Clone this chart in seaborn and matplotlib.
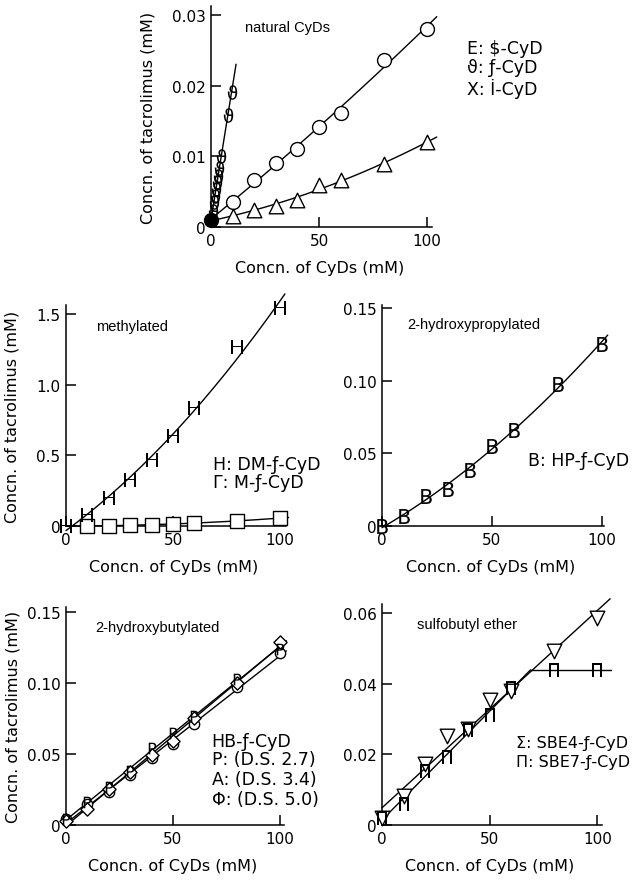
import matplotlib
matplotlib.use("Agg")
import matplotlib.pyplot as plt
import numpy as np
import seaborn as sns

sns.set_style("ticks")
plt.rcParams['font.family'] = ['DejaVu Sans']
plt.rcParams['mathtext.default'] = 'regular'
plt.rcParams['text.color'] = 'black'
plt.rcParams['axes.labelcolor'] = 'black'
plt.rcParams['xtick.color'] = 'black'
plt.rcParams['ytick.color'] = 'black'

conc = [0, 10, 20, 30, 40, 50, 60, 80, 100]

# natural CyDs
s0_natural = 0.001
nat_x = [10, 20, 30, 40, 50, 60, 80, 100]
nat_circle = [0.0036, 0.0066, 0.0091, 0.0111, 0.0142, 0.0162, 0.0236, 0.0281]
nat_triangle = [0.0016, 0.0024, 0.0029, 0.0038, 0.0059, 0.0067, 0.0089, 0.0120]
nat_steep_x = [0.7, 1.3, 1.8, 2.3, 2.8, 3.3, 3.9, 4.8, 7.8, 9.5]
nat_steep = [0.0023, 0.0035, 0.0044, 0.0054, 0.0063, 0.0072, 0.0084, 0.0101, 0.0158, 0.0191]

# methylated
dm_beta = [0.0, 0.075, 0.198, 0.322, 0.468, 0.640, 0.835, 1.264, 1.546]
m_beta_x = [10, 20, 30, 40, 50, 60, 80, 100]
m_beta = [0.0, 0.0, 0.005, 0.010, 0.016, 0.020, 0.035, 0.056]

# 2-hydroxypropylated
hp_beta = [0.0, 0.0067, 0.0206, 0.0257, 0.0388, 0.0550, 0.0658, 0.0975, 0.1255]

# 2-hydroxybutylated
hb_27 = [0.004, 0.016, 0.027, 0.038, 0.054, 0.065, 0.077, 0.103, 0.124]
hb_34 = [0.003, 0.011, 0.025, 0.037, 0.049, 0.059, 0.075, 0.100, 0.129]
hb_50 = [0.004, 0.015, 0.023, 0.035, 0.047, 0.057, 0.071, 0.097, 0.121]
hb_50_err = [0.001, 0.002, 0.002, 0.003, 0.003, 0.003, 0.003, 0.003, 0.003]

# sulfobutyl ether
sbe4 = [0.0020, 0.0083, 0.0173, 0.0253, 0.0272, 0.0354, 0.0380, 0.0493, 0.0585]
sbe7 = [0.0019, 0.0059, 0.0154, 0.0192, 0.0269, 0.0311, 0.0387, 0.0439, 0.0439]

YLABEL = 'Concn. of tacrolimus (mM)'
XLABEL = 'Concn. of CyDs (mM)'


def setup(ax, xmax, ymax, yticks, ylabels, title, tpos, ylab=None):
    ax.set_xlim(0, xmax)
    ax.set_ylim(0, ymax)
    sns.despine(ax=ax)
    for s in ['left', 'bottom']:
        ax.spines[s].set_linewidth(1.1)
        ax.spines[s].set_color('black')
    ax.set_xticks([0, 50, 100])
    ax.set_xticklabels(['0', '50', '100'])
    ax.set_yticks(yticks)
    ax.set_yticklabels(ylabels)
    ax.tick_params(direction='in', length=7, width=1.1, labelsize=11, pad=4,
                   colors='black')
    ax.set_xlabel(XLABEL, fontsize=11.5)
    ax.xaxis.set_label_coords(0.49, -0.15)
    if ylab is not None:
        ax.set_ylabel(YLABEL, fontsize=11.5)
        ax.yaxis.set_label_coords(ylab, 0.5)
    else:
        ax.set_ylabel('')
    ax.text(tpos[0], tpos[1], title, transform=ax.transAxes, fontsize=10.5,
            family='Liberation Sans', va='center', ha='left')


def fitline(ax, x, y, deg, x1, x0=0):
    p = np.polyfit(x, y, deg)
    xf = np.linspace(x0, x1, 150)
    sns.lineplot(x=xf, y=np.polyval(p, xf), ax=ax, color='black', linewidth=1,
                 estimator=None, sort=False, clip_on=False, zorder=2)


def pts(ax, x, y, marker, s, filled=False):
    if marker.startswith('$'):
        sns.scatterplot(x=x, y=y, ax=ax, marker=marker, s=s, color='black',
                        edgecolor='black', linewidth=0, clip_on=False, zorder=4)
    else:
        sns.scatterplot(x=x, y=y, ax=ax, marker=marker, s=s,
                        facecolor='black' if filled else 'white',
                        edgecolor='black', linewidth=1, clip_on=False, zorder=3)


def legend_text(ax, x, ys, lines, size=12.5):
    for yy, t in zip(ys, lines):
        ax.text(x, yy, t, transform=ax.transAxes, fontsize=size, va='center', ha='left')


fig = plt.figure(figsize=(6.39, 8.95), dpi=100)

# --- natural CyDs ---
ax1 = fig.add_axes([0.3302, 0.7453, 0.3459, 0.2469])
setup(ax1, 102.3, 0.0313, [0, 0.01, 0.02, 0.03], ['0', '0.01', '0.02', '0.03'],
      'natural CyDs', (0.154, 0.905), ylab=-0.25)
fitline(ax1, [0] + nat_x, [s0_natural] + nat_circle, 2, 104.5)
fitline(ax1, [0] + nat_x, [s0_natural] + nat_triangle, 2, 104.5)
fitline(ax1, [0] + nat_steep_x, [s0_natural] + nat_steep, 1, 11.6)
pts(ax1, nat_x, nat_circle, 'o', 100)
pts(ax1, nat_x, nat_triangle, '^', 110)
pts(ax1, nat_steep_x, nat_steep, '$ϑ$', 110)
pts(ax1, [0], [s0_natural], 'o', 100, filled=True)
legend_text(ax1, 1.158, [0.81, 0.724, 0.629], ['E: $-CyD', 'ϑ: ƒ-CyD', 'X: İ-CyD'])

# --- methylated ---
ax2 = fig.add_axes([0.1033, 0.4112, 0.3443, 0.2469])
setup(ax2, 102.8, 1.564, [0, 0.5, 1.0, 1.5], ['0', '0.5', '1.0', '1.5'],
      'methylated', (0.136, 0.905), ylab=-0.21)
fitline(ax2, conc, dm_beta, 2, 102.3)
fitline(ax2, [0] + m_beta_x, [0] + m_beta, 2, 104)
pts(ax2, conc, dm_beta, '$H$', 115)
pts(ax2, m_beta_x, m_beta, 's', 110)
legend_text(ax2, 0.668, [0.28, 0.199], ['H: DM-ƒ-CyD', 'Γ: M-ƒ-CyD'])

# --- 2-hydroxypropylated ---
ax3 = fig.add_axes([0.5978, 0.4112, 0.3474, 0.2469])
setup(ax3, 100.9, 0.1521, [0, 0.05, 0.10, 0.15], ['0', '0.05', '0.10', '0.15'],
      '2-hydroxypropylated', (0.113, 0.914))
fitline(ax3, conc, hp_beta, 2, 102.6)
pts(ax3, conc, hp_beta, '$B$', 115)
legend_text(ax3, 0.658, [0.30], ['B: HP-ƒ-CyD'])

# --- 2-hydroxybutylated ---
ax4 = fig.add_axes([0.1033, 0.0771, 0.3412, 0.2436])
setup(ax4, 101.9, 0.1535, [0, 0.05, 0.10, 0.15], ['0', '0.05', '0.10', '0.15'],
      '2-hydroxybutylated', (0.132, 0.908), ylab=-0.21)
fitline(ax4, conc, hb_27, 1, 103)
fitline(ax4, conc, hb_34, 1, 103)
fitline(ax4, conc, hb_50, 1, 103)
ax4.errorbar(conc, hb_50, yerr=hb_50_err, fmt='none', ecolor='black',
             elinewidth=1.5, capsize=0, zorder=3, clip_on=False)
pts(ax4, conc, hb_50, 'o', 55)
pts(ax4, conc, hb_34, 'D', 45)
pts(ax4, conc, hb_27, '$P$', 70)
legend_text(ax4, 0.668, [0.385, 0.303, 0.211, 0.119],
            ['HB-ƒ-CyD', 'P: (D.S. 2.7)', 'A: (D.S. 3.4)', 'Φ: (D.S. 5.0)'])

# --- sulfobutyl ether ---
ax5 = fig.add_axes([0.5978, 0.0771, 0.3443, 0.2469])
setup(ax5, 102.2, 0.0625, [0, 0.02, 0.04, 0.06], ['0', '0.02', '0.04', '0.06'],
      'sulfobutyl ether', (0.159, 0.908))
fitline(ax5, conc, sbe4, 1, 106)
lin7 = np.polyfit(conc[:7], sbe7[:7], 1)
plateau = np.mean(sbe7[7:])
x_break = (plateau - lin7[1]) / lin7[0]
xa = np.linspace(0, x_break, 50)
sns.lineplot(x=xa, y=np.polyval(lin7, xa), ax=ax5, color='black', linewidth=1,
             estimator=None, sort=False, clip_on=False)
sns.lineplot(x=[x_break, 106.5], y=[plateau, plateau], ax=ax5, color='black',
             linewidth=1, estimator=None, sort=False, clip_on=False)
pts(ax5, conc, sbe4, 'v', 110)
pts(ax5, conc, sbe7, '$Π$', 90)
legend_text(ax5, 0.61, [0.372, 0.289], ['Σ: SBE4-ƒ-CyD', 'Π: SBE7-ƒ-CyD'], size=11.5)

fig.savefig('out.png', dpi=100)
